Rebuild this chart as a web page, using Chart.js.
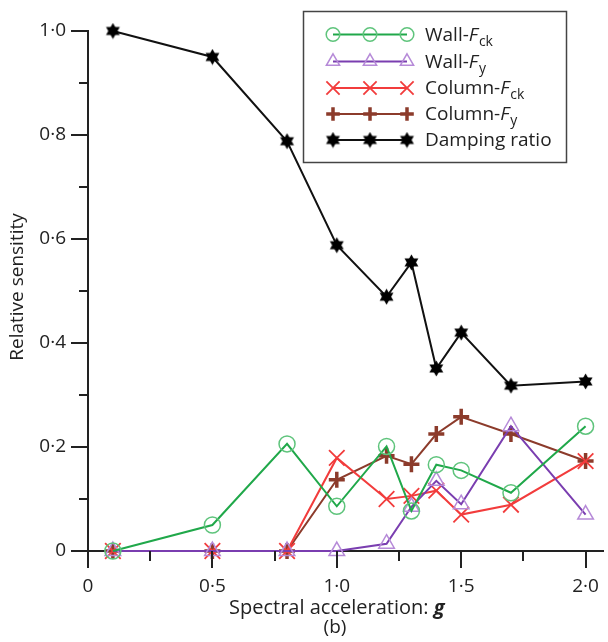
<!DOCTYPE html>
<html>
<head>
<meta charset="utf-8">
<script src="https://cdn.jsdelivr.net/npm/chart.js@4"></script>
<style>
  html, body { margin: 0; padding: 0; background: #fff; }
  #sens { display: block; }
</style>
</head>
<body>
<canvas id="sens" width="608" height="642"></canvas>
<script>
// spectral acceleration (g) at which each analysis was run
const accel = [0.1, 0.5, 0.8, 1.0, 1.2, 1.3, 1.4, 1.5, 1.7, 2.0];

// relative sensitivity of each parameter
const wallFck   = [0, 0.05, 0.206, 0.086, 0.201, 0.077, 0.166, 0.155, 0.112, 0.24];
const wallFy    = [0, 0, 0, 0, 0.014, 0.085, 0.135, 0.09, 0.24, 0.07];
const columnFck = [0, 0, 0, 0.179, 0.1, 0.106, 0.116, 0.07, 0.089, 0.173];
const columnFy  = [0, 0, 0, 0.137, 0.183, 0.167, 0.225, 0.258, 0.225, 0.173];
const damping   = [1.0, 0.95, 0.788, 0.588, 0.489, 0.555, 0.351, 0.42, 0.318, 0.326];

const xTicks = [0, 0.5, 1.0, 1.5, 2.0];
const xMinorTicks = [0.25, 0.75, 1.25, 1.75];
const yTicks = [0, 0.2, 0.4, 0.6, 0.8, 1.0];
const yMinorTicks = [0.1, 0.3, 0.5, 0.7, 0.9];

const FONT = "'Open Sans', 'Noto Sans', sans-serif";
const AXIS = "#222";

// filled six-pointed star used for the damping ratio series
function makeStar(size) {
  const c = document.createElement("canvas");
  c.width = size;
  c.height = size;
  const g = c.getContext("2d");
  const r = size / 2 - 0.5;
  const cx = size / 2, cy = size / 2;
  g.fillStyle = "#000";
  for (const off of [-Math.PI / 2, Math.PI / 2]) {
    g.beginPath();
    for (let k = 0; k < 3; k++) {
      const a = off + k * 2 * Math.PI / 3;
      const px = cx + r * Math.cos(a), py = cy + r * Math.sin(a);
      if (k === 0) g.moveTo(px, py); else g.lineTo(px, py);
    }
    g.closePath();
    g.fill();
  }
  return c;
}
const starImg = makeStar(17);

function pts(vals) {
  return vals.map((v, i) => ({ x: accel[i], y: v }));
}

function fmt(v) {
  return v === 0 ? "0" : v.toFixed(1).replace(".", "·");
}

const series = [
  { label: [["Wall-"], ["F", "i"], ["ck", "s"]], data: wallFck, line: "#20a84a", mark: "#5fc47c",
    style: "circle", radius: 8, bw: 1.5, fill: "rgba(0,0,0,0)" },
  { label: [["Wall-"], ["F", "i"], ["y", "s"]], data: wallFy, line: "#7a3eb0", mark: "#b68ad8",
    style: "triangle", radius: 9, bw: 1.5, fill: "rgba(0,0,0,0)" },
  { label: [["Column-"], ["F", "i"], ["ck", "s"]], data: columnFck, line: "#f23c3c", mark: "#f23c3c",
    style: "crossRot", radius: 11, bw: 1.8, fill: "#f23c3c" },
  { label: [["Column-"], ["F", "i"], ["y", "s"]], data: columnFy, line: "#8c3b2b", mark: "#8c3b2b",
    style: "cross", radius: 8, bw: 3.5, fill: "#8c3b2b" },
  { label: [["Damping ratio"]], data: damping, line: "#111", mark: "#000",
    style: starImg, radius: 8, bw: 1, fill: "#000" },
];

// axis ticks, custom legend and axis titles
const decor = {
  id: "decor",
  afterDraw(chart) {
    const ctx = chart.ctx;
    const xs = chart.scales.x, ys = chart.scales.y;
    const area = chart.chartArea;
    ctx.save();
    ctx.strokeStyle = AXIS;
    ctx.lineWidth = 2;
    ctx.beginPath();
    for (const v of yTicks) {
      const py = Math.round(ys.getPixelForValue(v));
      ctx.moveTo(area.left - 17, py); ctx.lineTo(area.left, py);
    }
    for (const v of yMinorTicks) {
      const py = Math.round(ys.getPixelForValue(v));
      ctx.moveTo(area.left - 9, py); ctx.lineTo(area.left, py);
    }
    for (const v of xTicks) {
      const px = Math.round(xs.getPixelForValue(v));
      ctx.moveTo(px, area.bottom); ctx.lineTo(px, area.bottom + 17);
    }
    for (const v of xMinorTicks) {
      const px = Math.round(xs.getPixelForValue(v));
      ctx.moveTo(px, area.bottom); ctx.lineTo(px, area.bottom + 10);
    }
    ctx.stroke();

    // legend box
    const bx = 303.5, by = 11.5, bw = 263, bh = 151;
    ctx.fillStyle = "#fff";
    ctx.fillRect(bx, by, bw, bh);
    ctx.strokeStyle = "#444";
    ctx.lineWidth = 1.5;
    ctx.strokeRect(bx, by, bw, bh);

    const rowY = [34.5, 61.5, 88, 114, 140];
    const markX = [333, 370, 407];
    series.forEach((s, i) => {
      const y = rowY[i];
      ctx.strokeStyle = s.line;
      ctx.lineWidth = 2;
      ctx.beginPath();
      ctx.moveTo(markX[0], y); ctx.lineTo(markX[2], y);
      ctx.stroke();
      for (const mx of markX) {
        ctx.strokeStyle = s.mark;
        ctx.fillStyle = s.fill;
        ctx.lineWidth = s.bw;
        Chart.helpers.drawPoint(ctx, { pointStyle: s.style, radius: s.radius * 0.85, rotation: 0, borderWidth: s.bw }, mx, y);
      }
      let tx = 425;
      ctx.fillStyle = "#222";
      ctx.textAlign = "left";
      ctx.textBaseline = "alphabetic";
      for (const [t, kind] of s.label) {
        ctx.font = kind === "i" ? `italic 19px ${FONT}` : kind === "s" ? `14px ${FONT}` : `19px ${FONT}`;
        const dy = kind === "s" ? 5 : 0;
        ctx.fillText(t, tx, y + 6 + dy);
        tx += ctx.measureText(t).width + (kind === "i" ? 1 : 0);
      }
    });

    // x title with bold italic unit
    ctx.fillStyle = "#222";
    ctx.textBaseline = "middle";
    const a = "Spectral acceleration: ";
    ctx.font = `20px ${FONT}`;
    const wa = ctx.measureText(a).width;
    ctx.font = `italic bold 20px ${FONT}`;
    const wg = ctx.measureText("g").width;
    const cx = (area.left + xs.getPixelForValue(2.0)) / 2;
    let sx = cx - (wa + wg) / 2;
    ctx.font = `20px ${FONT}`;
    ctx.textAlign = "left";
    ctx.fillText(a, sx, 608);
    ctx.font = `italic bold 20px ${FONT}`;
    ctx.fillText("g", sx + wa, 608);
    ctx.font = `19px ${FONT}`;
    ctx.textAlign = "center";
    ctx.fillText("(b)", 335, 628);

    // y title
    ctx.translate(18, 287);
    ctx.rotate(-Math.PI / 2);
    ctx.fillText("Relative sensitity", 0, 0);
    ctx.restore();
  }
};

const datasets = series.map(s => ({
  label: s.label.map(p => p[0]).join(""),
  data: pts(s.data),
  borderColor: s.line,
  borderWidth: 2,
  pointStyle: s.style,
  pointRadius: s.radius,
  pointBorderColor: s.mark,
  pointBackgroundColor: s.fill,
  pointBorderWidth: s.bw,
  pointHoverRadius: s.radius,
  tension: 0,
  clip: false,
}));

// tick marks are drawn by the decor plugin; the library's own marks stay
// invisible and only set the label offset
const hiddenTicks = { display: true, drawOnChartArea: false, drawTicks: true, color: "rgba(0,0,0,0)" };

new Chart(document.getElementById("sens"), {
  type: "line",
  data: { datasets },
  plugins: [decor],
  options: {
    responsive: false,
    animation: false,
    events: [],
    layout: { autoPadding: false, padding: { top: 31, right: 5, left: 0, bottom: 0 } },
    plugins: { legend: { display: false }, tooltip: { enabled: false } },
    scales: {
      x: {
        type: "linear",
        min: 0,
        max: 2.07,
        afterFit: s => { s.height = 91; s.paddingLeft = 0; s.paddingRight = 0; },
        afterBuildTicks: s => { s.ticks = xTicks.map(v => ({ value: v })); },
        grid: { ...hiddenTicks, tickLength: 22 },
        border: { display: true, color: AXIS, width: 2 },
        ticks: {
          padding: 2,
          maxRotation: 0,
          autoSkip: false,
          color: "#222",
          font: { family: FONT, size: 19 },
          callback: v => fmt(v),
        },
      },
      y: {
        type: "linear",
        min: 0,
        max: 1.0,
        afterFit: s => { s.width = 88; s.paddingTop = 0; s.paddingBottom = 0; },
        afterBuildTicks: s => { s.ticks = yTicks.map(v => ({ value: v })); },
        grid: { ...hiddenTicks, tickLength: 20 },
        border: { display: true, color: AXIS, width: 2 },
        ticks: {
          padding: 2,
          color: "#222",
          font: { family: FONT, size: 19 },
          callback: v => fmt(v),
        },
      },
    },
  },
});
</script>
</body>
</html>
